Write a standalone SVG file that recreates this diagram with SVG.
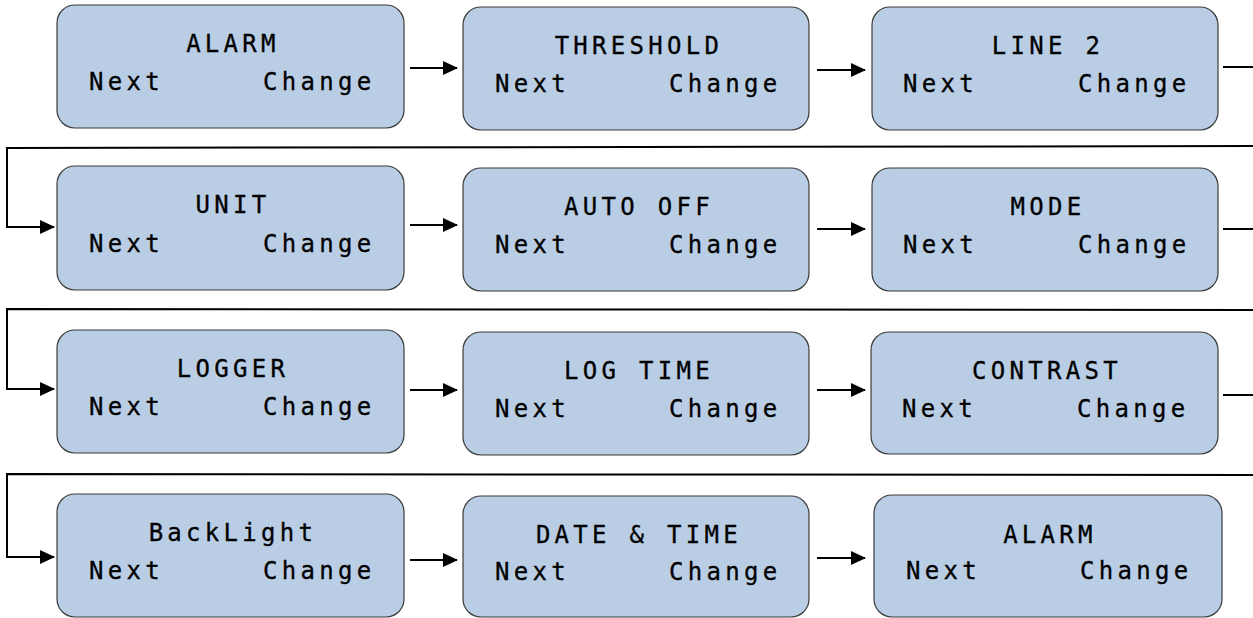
<svg xmlns="http://www.w3.org/2000/svg" width="1253" height="618" viewBox="0 0 1253 618">
<style>
.box{fill:#b9cde4;stroke:#3a3a3a;stroke-width:1.2}
text{font-family:"DejaVu Sans Mono","Liberation Mono",monospace;font-size:24px;letter-spacing:4.3px;fill:#000;stroke:#000;stroke-width:0.3}
.t{text-anchor:middle}
.ln{fill:none;stroke:#000;stroke-width:2}
</style>
<defs>
<marker id="ah" markerWidth="15" markerHeight="14" refX="14" refY="7" orient="auto" markerUnits="userSpaceOnUse">
<path d="M0,0 L15,7 L0,14 Z" fill="#000"/>
</marker>
</defs>
<g id="connectors">
<path class="ln" d="M410,68 H457" marker-end="url(#ah)"/>
<path class="ln" d="M817,70 H865" marker-end="url(#ah)"/>
<path class="ln" d="M1223,67 H1253"/>
<path class="ln" d="M1253,146 L7,148 V227 H54" marker-end="url(#ah)"/>
<path class="ln" d="M410,225 H457" marker-end="url(#ah)"/>
<path class="ln" d="M817,229 H865" marker-end="url(#ah)"/>
<path class="ln" d="M1223,229 H1253"/>
<path class="ln" d="M1253,310 L7,309 V389 H54" marker-end="url(#ah)"/>
<path class="ln" d="M410,390 H457" marker-end="url(#ah)"/>
<path class="ln" d="M817,390 H865" marker-end="url(#ah)"/>
<path class="ln" d="M1223,395 H1253"/>
<path class="ln" d="M1253,475 L7,474 V557 H54" marker-end="url(#ah)"/>
<path class="ln" d="M410,560 H457" marker-end="url(#ah)"/>
<path class="ln" d="M817,558 H865" marker-end="url(#ah)"/>
</g>
<g id="n1"><rect class="box" x="57" y="5" width="347" height="123" rx="18"/><text class="t" x="233" y="52">ALARM</text><text x="89" y="90">Next</text><text x="263" y="90">Change</text></g>
<g id="n2"><rect class="box" x="463" y="7" width="346" height="123" rx="18"/><text class="t" x="639" y="54">THRESHOLD</text><text x="495" y="92">Next</text><text x="669" y="92">Change</text></g>
<g id="n3"><rect class="box" x="872" y="7" width="346" height="123" rx="18"/><text class="t" x="1048" y="54">LINE 2</text><text x="903" y="92">Next</text><text x="1078" y="92">Change</text></g>
<g id="n4"><rect class="box" x="57" y="166" width="347" height="124" rx="18"/><text class="t" x="233" y="213">UNIT</text><text x="89" y="252">Next</text><text x="263" y="252">Change</text></g>
<g id="n5"><rect class="box" x="463" y="168" width="346" height="123" rx="18"/><text class="t" x="639" y="215">AUTO OFF</text><text x="495" y="253">Next</text><text x="669" y="253">Change</text></g>
<g id="n6"><rect class="box" x="872" y="168" width="346" height="123" rx="18"/><text class="t" x="1048" y="215">MODE</text><text x="903" y="253">Next</text><text x="1078" y="253">Change</text></g>
<g id="n7"><rect class="box" x="57" y="330" width="347" height="123" rx="18"/><text class="t" x="233" y="377">LOGGER</text><text x="89" y="415">Next</text><text x="263" y="415">Change</text></g>
<g id="n8"><rect class="box" x="463" y="332" width="346" height="123" rx="18"/><text class="t" x="639" y="379">LOG TIME</text><text x="495" y="417">Next</text><text x="669" y="417">Change</text></g>
<g id="n9"><rect class="box" x="871" y="332" width="347" height="122" rx="18"/><text class="t" x="1047" y="379">CONTRAST</text><text x="902" y="417">Next</text><text x="1077" y="417">Change</text></g>
<g id="n10"><rect class="box" x="57" y="494" width="347" height="123" rx="18"/><text class="t" x="233" y="541">BackLight</text><text x="89" y="579">Next</text><text x="263" y="579">Change</text></g>
<g id="n11"><rect class="box" x="463" y="496" width="346" height="121" rx="18"/><text class="t" x="639" y="543">DATE &amp; TIME</text><text x="495" y="580">Next</text><text x="669" y="580">Change</text></g>
<g id="n12"><rect class="box" x="874" y="495" width="348" height="122" rx="18"/><text class="t" x="1050" y="543">ALARM</text><text x="906" y="579">Next</text><text x="1080" y="579">Change</text></g>
</svg>
